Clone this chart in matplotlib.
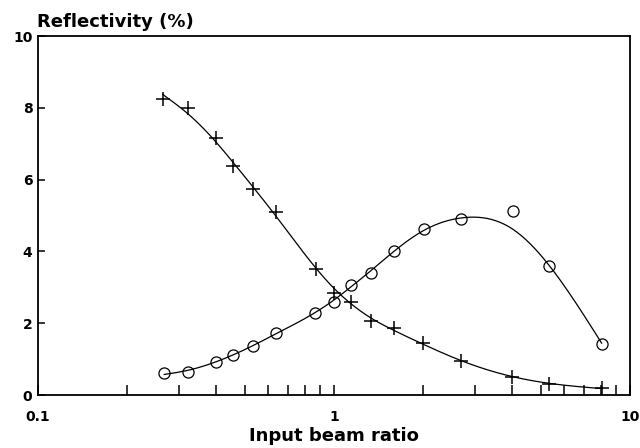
import numpy as np
import matplotlib
matplotlib.use("Agg")
import matplotlib.pyplot as plt
from matplotlib.ticker import FixedLocator, NullFormatter

# crosses
cross_x = [0.264, 0.320, 0.398, 0.455, 0.534, 0.637, 0.867, 1.00, 1.14, 1.33, 1.60, 2.00, 2.69, 3.98, 5.34, 8.02]
cross_y = [8.24, 8.00, 7.15, 6.38, 5.74, 5.11, 3.52, 2.85, 2.58, 2.07, 1.88, 1.44, 0.94, 0.51, 0.32, 0.19]

# circles
circ_x = [0.267, 0.320, 0.400, 0.457, 0.534, 0.637, 0.865, 1.00, 1.14, 1.33, 1.60, 2.01, 2.69, 4.01, 5.34, 8.02]
circ_y = [0.60, 0.65, 0.93, 1.12, 1.37, 1.74, 2.29, 2.60, 3.06, 3.41, 4.02, 4.62, 4.90, 5.13, 3.60, 1.42]
circ_w = [1, 1, 1, 1, 1, 1, 1, 1, 1, 1, 1, 1, 1, 0.1, 1, 1]  # the curve misses 4.01

x_ticks = [0.1, 1, 10]
x_ticklabels = ["0.1", "1", "10"]
y_ticks = [0, 2, 4, 6, 8, 10]

plt.rcParams['font.family'] = ['DejaVu Sans']
plt.rcParams['font.weight'] = 'bold'

fig = plt.figure(figsize=(6.4, 4.48), dpi=100)
ax = fig.add_axes([38/640, 1-395/448, 592/640, 359/448])


def smooth(xs, ys, w=None, lam=1e-4, n=300):
    # penalised least squares curve on a grid in log10(x)
    t = np.log10(np.asarray(xs, float))
    y = np.asarray(ys, float)
    w = np.ones_like(y) if w is None else np.asarray(w, float)
    g = np.linspace(t.min(), t.max(), n)
    h = g[1] - g[0]
    W = np.zeros((len(t), n))
    for i, ti in enumerate(t):
        j = min(int((ti - g[0]) / h), n - 2)
        f = (ti - g[j]) / h
        W[i, j] = 1 - f
        W[i, j + 1] = f
    D = np.diff(np.eye(n), 2, axis=0) / h**2
    A = W.T @ (w[:, None] * W) + lam * h * D.T @ D
    fit = np.linalg.solve(A, W.T @ (w * y))
    return 10**g, fit


sx, sy = smooth(cross_x, cross_y, lam=4e-4)
ax.plot(sx, sy, color='black', lw=0.9)
ax.plot(cross_x, cross_y, ls='none', marker='+', ms=10, mew=1.1, color='black')

sx, sy = smooth(circ_x, circ_y, circ_w, lam=1.5e-4)
ax.plot(sx, sy, color='black', lw=0.9)
ax.plot(circ_x, circ_y, ls='none', marker='o', ms=8, mfc='none', mew=0.9, color='black')

ax.set_xscale('log')
ax.set_xlim(0.1, 10)
ax.set_ylim(0, 10)
ax.xaxis.set_major_locator(FixedLocator(x_ticks))
ax.set_xticklabels(x_ticklabels)
ax.xaxis.set_minor_locator(FixedLocator([m * d for d in (0.1, 1) for m in range(2, 10)]))
ax.xaxis.set_minor_formatter(NullFormatter())
ax.set_yticks(y_ticks)

ax.tick_params(axis='x', which='both', direction='in', length=7, width=1.1, pad=11, labelsize=10)
ax.tick_params(axis='y', which='both', direction='in', length=5, width=1.1, pad=4, labelsize=10)
for s in ax.spines.values():
    s.set_linewidth(1.3)

ax.set_xlabel("Input beam ratio", fontsize=13, fontweight='bold', labelpad=2)
fig.text(37/640, 1-27/448, "Reflectivity (%)", fontsize=13, fontweight='bold', ha='left', va='baseline')

fig.savefig("out.png", dpi=100)
